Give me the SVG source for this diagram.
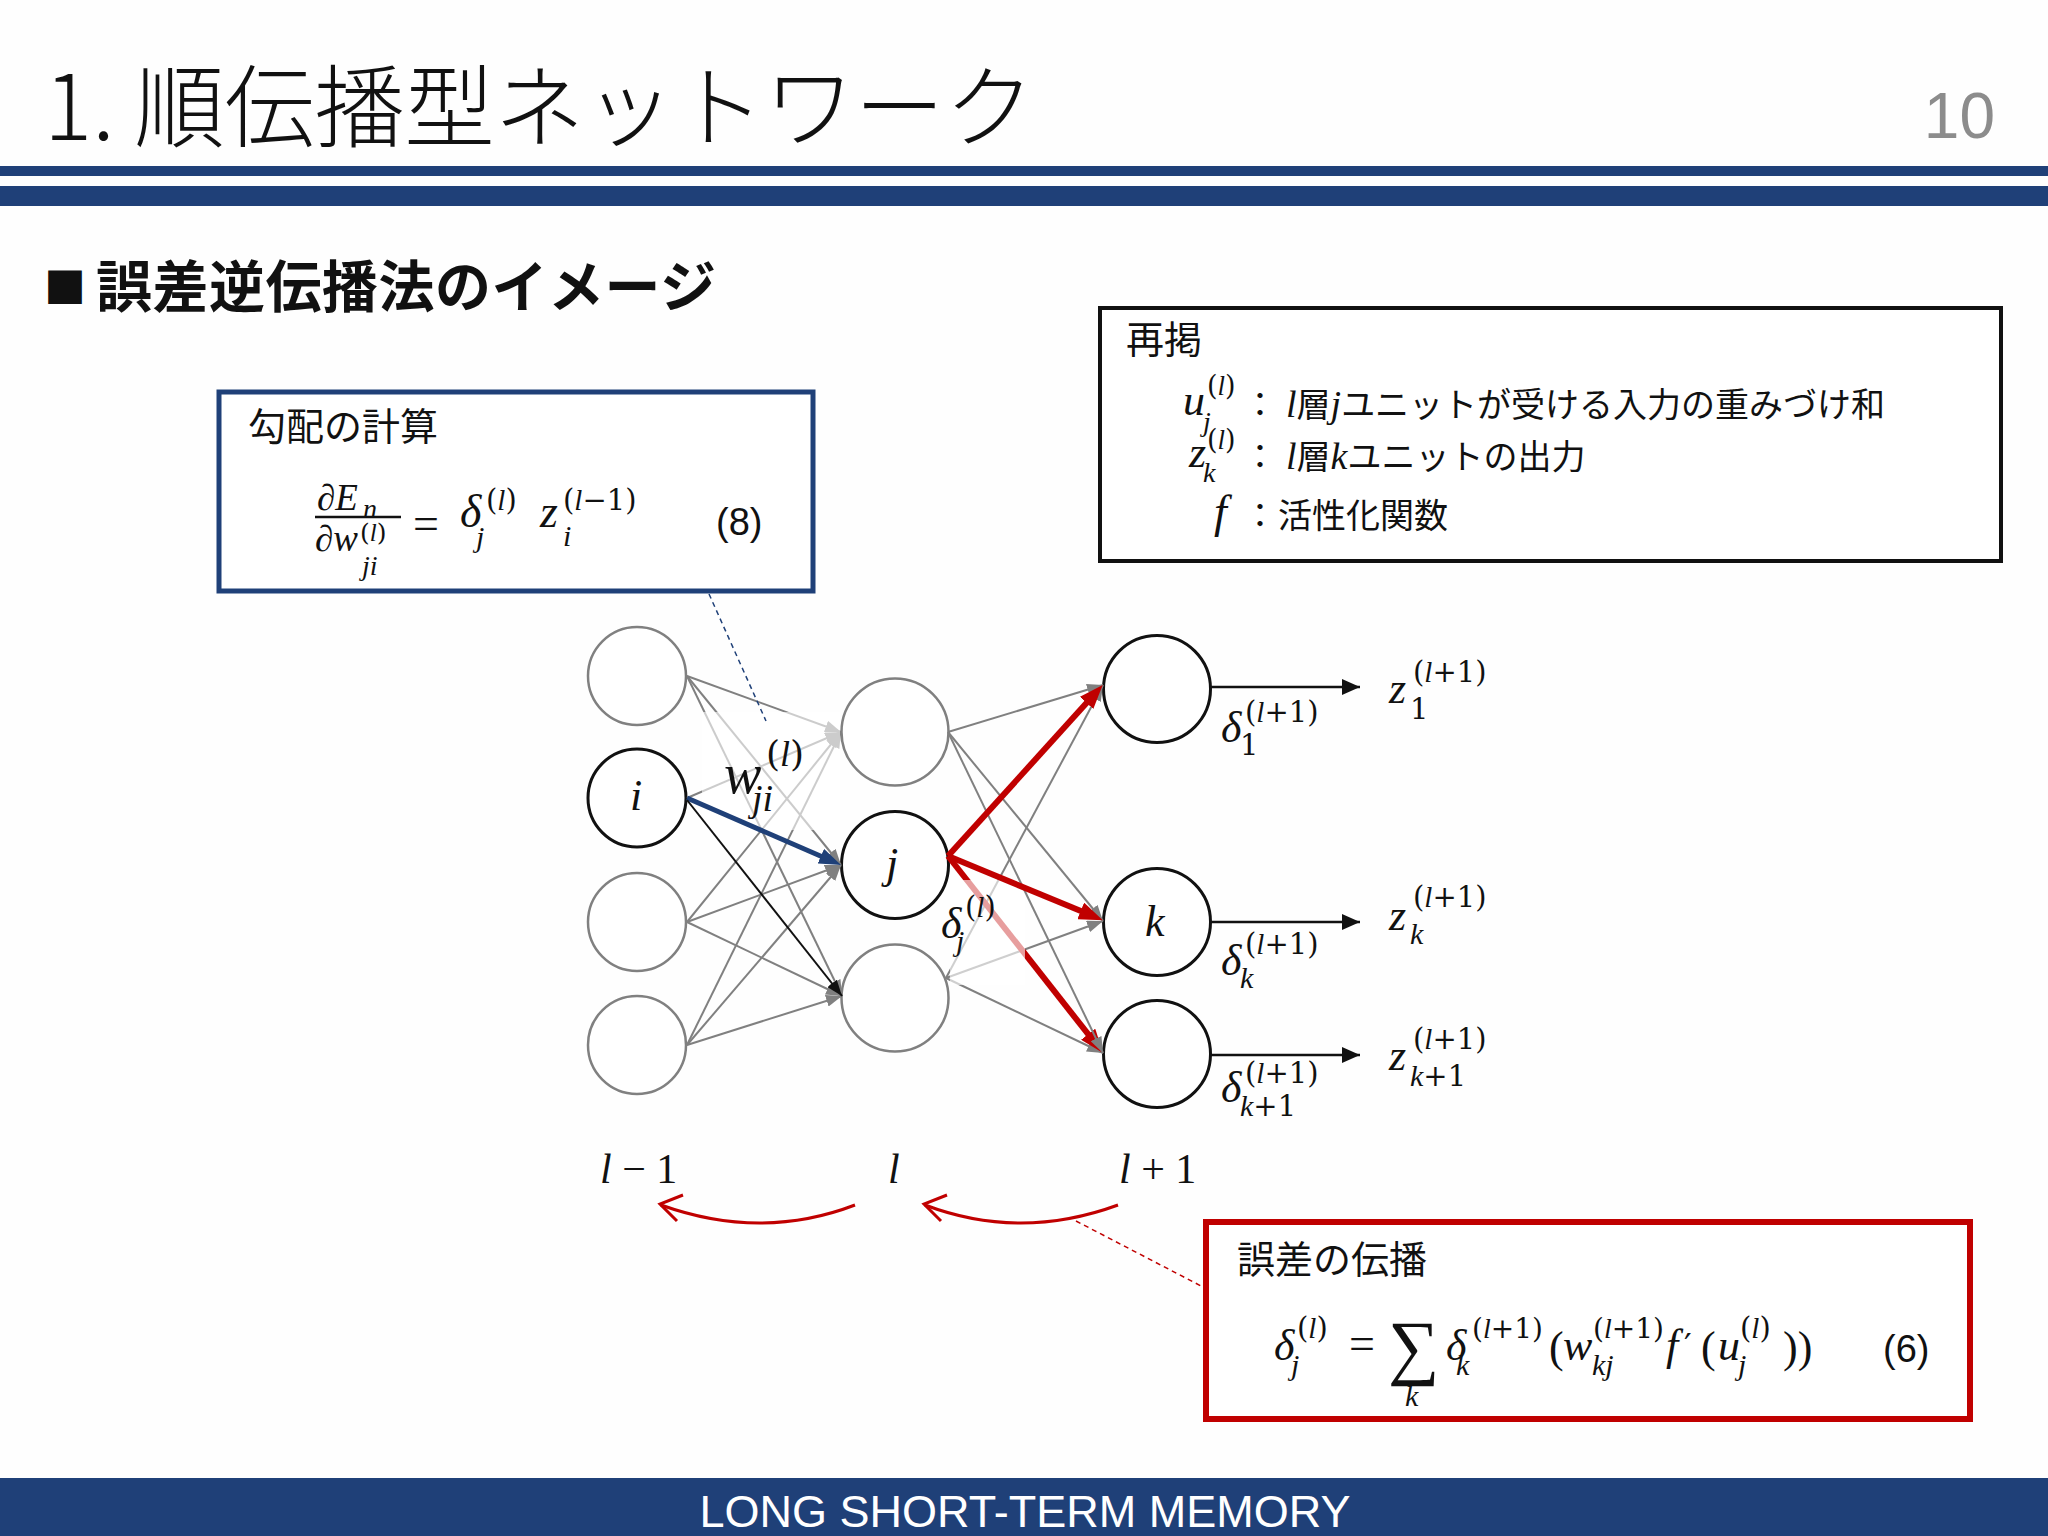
<svg xmlns="http://www.w3.org/2000/svg" width="2048" height="1536" viewBox="0 0 2048 1536">
<defs>
<style>
.cjk{font-family:"Noto Sans CJK JP",sans-serif;fill:#111}
.mi{font-family:"Liberation Serif","DejaVu Serif",serif;font-style:italic;fill:#111}
.mn{font-family:"DejaVu Serif","Liberation Serif",serif;font-style:normal;fill:#111}
.mo{font-family:"Liberation Serif","DejaVu Serif",serif;font-style:normal;fill:#111}
.ar{font-family:"Liberation Sans",Arial,sans-serif;fill:#111}
.g{stroke:#808080;stroke-width:2;fill:none}
.gc{stroke:#808080;stroke-width:2.5;fill:#fff}
.bc{stroke:#111;stroke-width:3;fill:#fff}
.red{stroke:#c00000;stroke-width:6;fill:none}
</style>
<marker id="ag" markerUnits="userSpaceOnUse" markerWidth="16" markerHeight="12" refX="16" refY="6" orient="auto"><path d="M0,0 L16,6 L0,12 z" fill="#808080"/></marker>
<marker id="ar" markerUnits="userSpaceOnUse" markerWidth="24" markerHeight="18" refX="14" refY="9" orient="auto"><path d="M0,0 L24,9 L0,18 z" fill="#c00000"/></marker>
<marker id="ab" markerUnits="userSpaceOnUse" markerWidth="22" markerHeight="16" refX="14" refY="8" orient="auto"><path d="M0,0 L22,8 L0,16 z" fill="#1f4078"/></marker>
<marker id="ak" markerUnits="userSpaceOnUse" markerWidth="16" markerHeight="12" refX="16" refY="6" orient="auto"><path d="M0,0 L16,6 L0,12 z" fill="#111"/></marker>
<marker id="ao" markerUnits="userSpaceOnUse" markerWidth="18" markerHeight="16" refX="18" refY="8" orient="auto"><path d="M0,0 L18,8 L0,16 z" fill="#111"/></marker>
</defs>
<rect width="2048" height="1536" fill="#fefefe"/>

<!-- header -->
<g id="header">
<text x="44" y="140" font-size="90" font-weight="300" class="cjk">1. 順伝播型ネットワーク</text>
<text x="1995" y="138" font-size="64" class="ar" text-anchor="end" style="fill:#8c8c8c">10</text>
<rect x="0" y="166" width="2048" height="10" fill="#1f4078"/>
<rect x="0" y="186" width="2048" height="20" fill="#1f4078"/>
<text x="44" y="303" font-size="42" font-weight="bold" class="cjk">■</text>
<text x="96" y="307" font-size="56" font-weight="bold" letter-spacing="0.5" class="cjk">誤差逆伝播法のイメージ</text>
</g>

<!-- gradient box -->
<g id="box-gradient">
<rect x="219" y="392" width="594" height="199" fill="#fff" stroke="#1f4078" stroke-width="5"/>
<text x="248" y="440" font-size="38" class="cjk">勾配の計算</text>
<text x="317" y="510" font-size="37" class="mi">∂E</text>
<text x="363" y="518" font-size="28" class="mi">n</text>
<line x1="315" y1="517" x2="401" y2="517" stroke="#111" stroke-width="2.5"/>
<text x="315" y="551" font-size="37" class="mi">∂w</text>
<text x="360" y="541" font-size="25" class="mn">(<tspan class="mi">l</tspan>)</text>
<text x="362" y="575" font-size="28" class="mi">ji</text>
<text x="413" y="539" font-size="46" class="mo">=</text>
<text x="460" y="527" font-size="46" class="mi">δ</text>
<text x="486" y="510" font-size="29" class="mn">(<tspan class="mi">l</tspan>)</text>
<text x="476" y="547" font-size="30" class="mi">j</text>
<text x="540" y="527" font-size="46" class="mi">z</text>
<text x="563" y="510" font-size="29" class="mn">(<tspan class="mi">l</tspan>−1)</text>
<text x="563" y="546" font-size="30" class="mi">i</text>
<text x="716" y="535" font-size="38" class="ar">(8)</text>
</g>

<!-- recap box -->
<g id="box-recap">
<rect x="1100" y="308" width="901" height="253" fill="#fff" stroke="#111" stroke-width="4"/>
<text x="1126" y="353" font-size="38" class="cjk">再掲</text>
<text x="1183" y="415" font-size="44" class="mi">u</text>
<text x="1207" y="395" font-size="27" class="mn">(<tspan class="mi">l</tspan>)</text>
<text x="1203" y="431" font-size="28" class="mi">j</text>
<text x="1243" y="417" font-size="34" class="cjk">：</text>
<text x="1286" y="417" font-size="34" class="cjk"><tspan class="mi" font-size="38">l</tspan>層<tspan class="mi" font-size="38">j</tspan>ユニットが受ける入力の重みづけ和</text>
<text x="1189" y="467" font-size="44" class="mi">z</text>
<text x="1207" y="449" font-size="27" class="mn">(<tspan class="mi">l</tspan>)</text>
<text x="1203" y="482" font-size="28" class="mi">k</text>
<text x="1243" y="469" font-size="34" class="cjk">：</text>
<text x="1286" y="469" font-size="34" class="cjk"><tspan class="mi" font-size="38">l</tspan>層<tspan class="mi" font-size="38">k</tspan>ユニットの出力</text>
<text x="1214" y="527" font-size="46" class="mi">f</text>
<text x="1243" y="528" font-size="34" class="cjk">：</text>
<text x="1278" y="528" font-size="34" class="cjk">活性化関数</text>
</g>

<!-- nodes -->
<g id="node-a1"><circle cx="637" cy="676" r="49" class="gc"/></g>
<g id="node-i"><circle cx="637" cy="798" r="49" class="bc"/><text x="630" y="810" font-size="44" class="mi">i</text></g>
<g id="node-a3"><circle cx="637" cy="922" r="49" class="gc"/></g>
<g id="node-a4"><circle cx="637" cy="1045" r="49" class="gc"/></g>
<g id="node-b1"><circle cx="895" cy="732" r="53.5" class="gc"/></g>
<g id="node-j"><circle cx="895" cy="865" r="53.5" class="bc"/><text x="886" y="878" font-size="44" class="mi">j</text></g>
<g id="node-b3"><circle cx="895" cy="998" r="53.5" class="gc"/></g>
<g id="node-c1"><circle cx="1157" cy="689" r="53.5" class="bc"/></g>
<g id="node-k"><circle cx="1157" cy="922" r="53.5" class="bc"/><text x="1145" y="936" font-size="44" class="mi">k</text></g>
<g id="node-k1"><circle cx="1157" cy="1054" r="53.5" class="bc"/></g>

<!-- connectors -->
<g id="connectors">
<line x1="687" y1="676" x2="841" y2="732" class="g" marker-end="url(#ag)"/>
<line x1="687" y1="676" x2="841" y2="865" class="g" marker-end="url(#ag)"/>
<line x1="687" y1="676" x2="842" y2="996" class="g" marker-end="url(#ag)"/>
<line x1="687" y1="798" x2="841" y2="732" class="g" marker-end="url(#ag)"/>
<line x1="687" y1="922" x2="841" y2="732" class="g" marker-end="url(#ag)"/>
<line x1="687" y1="922" x2="841" y2="865" class="g" marker-end="url(#ag)"/>
<line x1="687" y1="922" x2="842" y2="996" class="g" marker-end="url(#ag)"/>
<line x1="687" y1="1045" x2="841" y2="732" class="g" marker-end="url(#ag)"/>
<line x1="687" y1="1045" x2="841" y2="865" class="g" marker-end="url(#ag)"/>
<line x1="687" y1="1045" x2="842" y2="996" class="g" marker-end="url(#ag)"/>
<rect x="702" y="712" width="138" height="118" fill="#fff" fill-opacity="0.6"/>
<line x1="687" y1="798" x2="833.7" y2="861.8" stroke="#1f4078" stroke-width="5" marker-end="url(#ab)"/>
<line x1="687" y1="800" x2="842" y2="996" stroke="#111" stroke-width="2" marker-end="url(#ak)"/>

<line x1="946" y1="978" x2="1103" y2="685" class="g" marker-end="url(#ag)"/>
<line x1="946" y1="978" x2="1103" y2="921" class="g" marker-end="url(#ag)"/>
<line x1="946" y1="978" x2="1103" y2="1053" class="g" marker-end="url(#ag)"/>
<line x1="948" y1="856" x2="1096.8" y2="1045.2" class="red" marker-end="url(#ar)"/>
<rect x="950" y="880" width="75" height="105" fill="#fff" fill-opacity="0.62"/>
<line x1="948" y1="732" x2="1103" y2="685" class="g" marker-end="url(#ag)"/>
<line x1="948" y1="732" x2="1103" y2="921" class="g" marker-end="url(#ag)"/>
<line x1="948" y1="732" x2="1103" y2="1053" class="g" marker-end="url(#ag)"/>
<line x1="948" y1="856" x2="1096" y2="692.5" class="red" marker-end="url(#ar)"/>
<line x1="948" y1="856" x2="1093.6" y2="916.3" class="red" marker-end="url(#ar)"/>

<line x1="1211" y1="687" x2="1360" y2="687" stroke="#111" stroke-width="2.5" marker-end="url(#ao)"/>
<line x1="1211" y1="922" x2="1360" y2="922" stroke="#111" stroke-width="2.5" marker-end="url(#ao)"/>
<line x1="1211" y1="1055" x2="1360" y2="1055" stroke="#111" stroke-width="2.5" marker-end="url(#ao)"/>

<line x1="709" y1="594" x2="766" y2="721" stroke="#1f4078" stroke-width="1.5" stroke-dasharray="5,4"/>
<line x1="1076" y1="1221" x2="1203" y2="1287" stroke="#c00000" stroke-width="1.5" stroke-dasharray="5,4"/>

<path d="M855,1205 Q761,1241 661,1205" stroke="#c00000" stroke-width="3" fill="none"/>
<path d="M683,1195 L660,1204 L677,1221" stroke="#c00000" stroke-width="3" fill="none"/>
<path d="M1118,1205 Q1020,1241 925,1205" stroke="#c00000" stroke-width="3" fill="none"/>
<path d="M947,1195 L924,1204 L941,1221" stroke="#c00000" stroke-width="3" fill="none"/>
</g>

<!-- network labels -->
<g id="labels">
<text x="724" y="793" font-size="56" class="mi">w</text>
<text x="766" y="766" font-size="36" class="mn">(<tspan class="mi">l</tspan>)</text>
<text x="752" y="811" font-size="38" class="mi">ji</text>

<text x="941" y="938" font-size="44" class="mi">δ</text>
<text x="965" y="917" font-size="29" class="mn">(<tspan class="mi">l</tspan>)</text>
<text x="956" y="951" font-size="30" class="mi">j</text>

<text x="1389" y="703" font-size="44" class="mi">z</text>
<text x="1413" y="682" font-size="29" class="mn">(<tspan class="mi">l</tspan>+1)</text>
<text x="1410" y="719" font-size="29" class="mn">1</text>
<text x="1221" y="742" font-size="44" class="mi">δ</text>
<text x="1245" y="722" font-size="29" class="mn">(<tspan class="mi">l</tspan>+1)</text>
<text x="1240" y="755" font-size="29" class="mn">1</text>

<text x="1389" y="930" font-size="44" class="mi">z</text>
<text x="1413" y="907" font-size="29" class="mn">(<tspan class="mi">l</tspan>+1)</text>
<text x="1410" y="944" font-size="30" class="mi">k</text>
<text x="1221" y="975" font-size="44" class="mi">δ</text>
<text x="1245" y="954" font-size="29" class="mn">(<tspan class="mi">l</tspan>+1)</text>
<text x="1240" y="988" font-size="30" class="mi">k</text>

<text x="1389" y="1070" font-size="44" class="mi">z</text>
<text x="1413" y="1049" font-size="29" class="mn">(<tspan class="mi">l</tspan>+1)</text>
<text x="1410" y="1086" font-size="29" class="mn"><tspan class="mi" font-size="30">k</tspan>+1</text>
<text x="1221" y="1102" font-size="44" class="mi">δ</text>
<text x="1245" y="1083" font-size="29" class="mn">(<tspan class="mi">l</tspan>+1)</text>
<text x="1240" y="1116" font-size="29" class="mn"><tspan class="mi" font-size="30">k</tspan>+1</text>

<text x="600" y="1183" font-size="42" class="mo"><tspan class="mi">l</tspan> − 1</text>
<text x="888" y="1183" font-size="42" class="mi">l</text>
<text x="1119" y="1183" font-size="42" class="mo"><tspan class="mi">l</tspan> + 1</text>
</g>

<!-- error box -->
<g id="box-error">
<rect x="1206" y="1222" width="764" height="197" fill="#fff" stroke="#c00000" stroke-width="6"/>
<text x="1237" y="1273" font-size="38" class="cjk">誤差の伝播</text>
<text x="1274" y="1360" font-size="44" class="mi">δ</text>
<text x="1297" y="1338" font-size="29" class="mn">(<tspan class="mi">l</tspan>)</text>
<text x="1291" y="1375" font-size="30" class="mi">j</text>
<text x="1349" y="1359" font-size="46" class="mo">=</text>
<text x="1388" y="1371" font-size="72" class="mo">∑</text>
<text x="1405" y="1406" font-size="30" class="mi">k</text>
<text x="1446" y="1360" font-size="44" class="mi">δ</text>
<text x="1472" y="1338" font-size="28" class="mn">(<tspan class="mi">l</tspan>+1)</text>
<text x="1456" y="1375" font-size="30" class="mi">k</text>
<text x="1549" y="1362" font-size="44" class="mo">(</text>
<text x="1563" y="1360" font-size="44" class="mi">w</text>
<text x="1593" y="1338" font-size="28" class="mn">(<tspan class="mi">l</tspan>+1)</text>
<text x="1592" y="1375" font-size="30" class="mi">kj</text>
<text x="1666" y="1360" font-size="44" class="mi">f</text>
<text x="1684" y="1358" font-size="34" class="mn">′</text>
<text x="1701" y="1362" font-size="44" class="mo">(</text>
<text x="1718" y="1360" font-size="44" class="mi">u</text>
<text x="1740" y="1338" font-size="29" class="mn">(<tspan class="mi">l</tspan>)</text>
<text x="1738" y="1375" font-size="30" class="mi">j</text>
<text x="1783" y="1362" font-size="44" class="mo">))</text>
<text x="1883" y="1362" font-size="38" class="ar">(6)</text>
</g>

<!-- footer -->
<g id="footer">
<rect x="0" y="1478" width="2048" height="58" fill="#1f4078"/>
<text x="1025" y="1527" font-size="45" class="ar" text-anchor="middle" style="fill:#fff">LONG SHORT-TERM MEMORY</text>
</g>
</svg>
